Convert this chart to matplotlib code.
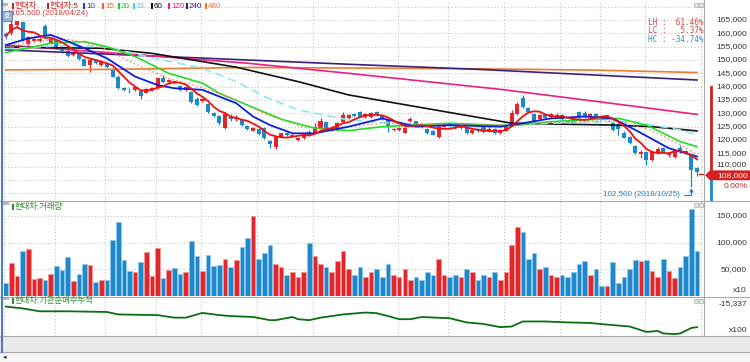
import matplotlib
matplotlib.use('Agg')
import matplotlib.pyplot as plt
import matplotlib.transforms as mtrans
from matplotlib.patches import Rectangle, Polygon
import numpy as np
import pandas as pd

plt.rcParams['font.family'] = ['Liberation Sans', 'Noto Sans CJK KR']

# 현대차 일봉 (천원 단위) 2018/04/23 ~ 2018/10/26
op = [159.8,160.0,163.2,164.3,156.0,157.2,157.3,162.8,156.5,157.5,154.8,153.5,151.8,152.5,150.2,148.0,150.0,148.2,149.0,146.5,
      143.8,139.6,138.9,138.6,138.2,137.8,138.8,139.4,143.2,141.6,142.0,140.3,138.8,138.0,135.5,134.6,133.5,130.0,129.0,124.5,
      129.0,127.8,127.5,125.3,123.5,124.2,124.4,119.6,117.3,121.3,122.6,121.3,120.0,120.7,123.0,122.4,124.5,126.9,123.9,123.8,
      126.6,128.4,129.8,130.4,128.6,128.7,130.5,129.0,127.4,123.6,123.8,122.8,127.2,127.0,125.6,124.0,123.5,121.0,125.0,126.0,
      125.4,124.4,124.9,122.5,123.8,124.8,123.2,124.3,122.6,123.5,126.0,129.6,135.6,132.0,129.6,128.0,129.9,128.6,128.8,129.2,
      127.2,127.8,130.4,130.3,128.8,129.8,129.0,128.5,126.4,125.9,122.8,121.3,117.9,114.6,115.4,112.6,115.0,117.0,114.3,113.8,
      117.0,116.0,114.5,109.4]
hi = [160.5,165.5,164.8,164.8,158.9,158.3,158.5,163.5,158.8,157.8,155.0,154.0,153.2,152.8,150.5,150.3,150.5,150.0,149.3,147.0,
      144.2,140.0,139.6,140.2,138.6,139.6,140.0,143.8,144.2,142.8,142.3,140.8,140.2,138.3,136.0,135.6,133.9,130.4,129.5,130.2,
      129.6,129.3,127.8,125.8,124.8,124.5,124.8,120.0,121.2,122.8,123.0,122.3,121.0,122.6,123.6,126.3,128.4,127.3,125.2,126.6,
      130.6,129.8,130.3,131.0,130.0,130.6,131.0,129.3,127.8,124.6,125.0,124.9,128.8,127.3,126.0,124.5,123.9,125.8,126.2,126.4,
      125.8,125.5,125.2,123.8,124.4,125.2,125.6,124.6,124.2,125.3,131.2,134.2,136.9,132.5,130.0,129.6,130.3,130.2,130.0,129.6,
      127.5,128.1,130.8,131.0,130.0,130.2,129.4,129.5,126.9,126.2,123.2,121.6,118.3,116.4,115.8,115.9,117.2,117.4,115.4,116.6,
      118.1,116.4,114.8,109.8]
lo = [157.8,159.5,162.0,157.0,155.5,156.6,156.8,159.0,156.0,154.0,152.8,151.2,151.5,150.0,147.6,145.4,148.6,147.8,147.0,143.5,
      139.0,138.3,137.8,138.3,135.3,137.5,138.2,139.0,141.5,141.0,141.0,138.4,138.4,133.8,132.6,134.2,130.2,128.8,125.8,124.0,
      127.3,127.3,125.2,123.8,123.2,122.0,120.3,116.9,116.8,121.0,121.5,121.0,119.6,120.4,121.6,122.2,124.2,123.6,123.4,123.4,
      126.3,128.0,128.8,128.5,128.3,128.3,129.0,127.6,123.1,123.3,123.4,122.5,126.8,125.6,124.6,122.3,121.7,120.8,124.7,124.8,
      124.0,124.0,122.3,122.2,123.0,122.8,123.0,122.3,122.3,123.2,125.6,129.2,131.9,130.0,126.8,127.6,127.8,128.2,128.4,127.5,
      126.0,125.7,128.3,128.1,128.4,128.0,128.3,128.2,123.3,122.0,120.6,118.6,114.6,113.2,110.6,112.2,114.6,115.0,113.8,113.4,
      115.2,114.6,102.5,106.5]
cl = [159.0,163.5,164.5,157.5,158.5,157.8,158.0,159.5,158.0,154.5,153.2,151.5,152.8,150.4,147.9,150.0,149.0,149.6,147.4,143.8,
      139.4,138.7,138.6,139.8,136.5,139.3,139.6,143.1,141.8,142.4,141.3,138.8,139.7,134.2,133.2,135.2,130.6,129.1,126.3,129.6,
      127.8,128.8,125.6,124.0,124.4,122.4,120.6,118.6,121.0,122.5,121.8,122.0,120.6,122.3,121.9,124.8,127.3,123.9,124.6,126.2,
      129.4,129.3,129.0,128.8,129.7,130.3,129.3,128.0,125.0,124.2,124.6,124.4,127.8,126.0,125.0,122.6,122.0,125.5,125.8,125.2,
      124.5,125.2,122.6,123.6,123.3,123.1,124.2,122.6,123.6,124.8,130.0,133.6,132.5,130.6,127.2,129.2,128.4,129.6,129.4,127.9,
      126.3,126.1,128.7,128.6,129.7,128.4,128.6,129.2,123.7,124.0,120.9,119.0,115.0,115.6,112.6,115.5,116.8,115.3,115.0,116.3,
      115.6,115.0,108.8,108.0]

# 거래량 (x10, 천 단위)
vol = [25,61.9,38.1,84.4,87.5,31.9,34.4,29.4,41.9,56.9,48.1,73.1,28.1,40.6,59.4,58.1,26.9,29.4,29.4,105.6,
       139.4,68.1,46.9,44.4,63.1,81.9,36.9,89.4,34.4,48.1,51.9,40.6,45.6,103.1,74.4,46.9,76.9,56.9,58.1,69.4,
       55,67.5,91.9,109.4,150,70,80,95,60,55,40,45,35,45,100,75,60,55,45,65,
       85,50,40,55,35,45,50,35,60,40,35,50,30,35,30,45,40,70,40,35,
       40,35,50,45,30,40,35,45,30,45,95,130,120,70,80,50,55,40,35,40,
       35,45,60,65,40,50,18.75,18.75,64.4,23.75,35,50,67.5,65,67.5,47.5,35,68.75,46.9,33.75,
       55,75,163,85]

# 이동평균선 (읽은 값, 천원)
ma10_x = [0,4,8,11,14,18,23,27,30,35,38,41,44,47,51,55,61,67,73,79,88,92,97,103,108,112,118,123]
ma10_y = [155.6,158.1,159.4,157.0,154.4,150.6,143.8,140.6,139.4,138.8,136.3,133.8,128.8,125.6,122.5,122.5,125.0,128.1,
          125.0,125.6,125.0,126.3,128.1,128.8,128.1,123.8,116.9,113.8]
ma15_x = [0,5,11,17,23,29,35,41,47,53,58,61,67,79,91,97,109,115,120,123]
ma15_y = [155.0,157.0,157.8,155.0,148.5,143.0,139.6,135.0,129.0,124.8,124.2,125.0,126.3,125.8,125.8,126.6,127.3,123.5,118.3,114.4]
ma20_x = [0,8,14,18,23,29,35,38,43,49,55,61,67,79,90,97,109,114,120,123]
ma20_y = [152.8,156.3,156.9,155.0,151.3,145.0,141.3,137.5,133.1,127.8,124.4,123.5,125.0,126.3,125.3,126.9,128.1,125.6,119.4,117.5]
ma33_x = [0,10,18,25,35,41,46,52,58,61,73,85,97,109,115,120,123]
ma33_y = [154.3,155.3,155.0,151.3,146.9,141.9,136.3,131.3,128.8,127.5,125.6,125.0,126.3,126.9,125.6,123.8,121.9]
ma60_x = [0,17,26,35,41,52,61,73,90,97,108,115,123]
ma60_y = [154.8,154.4,152.5,149.4,147.3,141.9,136.9,132.5,126.3,126.0,125.6,125.0,123.4]
ma120_x = [0,20,43,61,88,105,123]
ma120_y = [155.6,152.5,148.8,145.0,139.0,134.5,129.6]
ma240_x = [0,43,61,84,123]
ma240_y = [153.8,150.0,148.4,146.5,142.5]
ma480_x = [0,20,43,61,84,105,123]
ma480_y = [146.3,146.5,147.2,147.0,146.7,146.2,145.3]

# 기관순매수누적 (x100)
net_x = [0,3,6,11,18,20,27,30,32,35,38,40,44,47,48,51,52,54,56,58,60,64,66,68,70,72,74,79,82,85,88,90,92,96,100,104,107,111,114,116,117,119,120,122,123]
net_y = [-15387,-15487,-15637,-15637,-15672,-15802,-15837,-15972,-15972,-15722,-15837,-15887,-15937,-16102,-16102,-15937,-16052,
         -16102,-15972,-15887,-15802,-15702,-15737,-15887,-16052,-16052,-15937,-16002,-16222,-16302,-16472,-16437,-16172,-16172,
         -16222,-16252,-16337,-16437,-16722,-16672,-16802,-16837,-16802,-16512,-16472]

date_idx = [0,9,18,27,35,45,55,70,79,89,99,106,114,124]
date_lbl = ['2018/04/23','05/08','05/21','06/04','06/18','07/02','07/16','08/06','08/20','09/03','09/17','10/01','10/15','10/29']
price_ticks = [110000,115000,120000,125000,130000,135000,140000,145000,150000,155000,160000,165000]
vol_ticks = [50000,100000,150000]

RED, BLUE = '#e3262b', '#1d88cc'
W, H = 750, 362

fig = plt.figure(figsize=(7.5, 3.62), dpi=100)
fig.patch.set_facecolor('white')

def box(x0, y0, x1, y1):
    return [x0 / W, 1 - y1 / H, (x1 - x0) / W, (y1 - y0) / H]

# 배경 띠 (날짜축, 스크롤)
fig.patches.append(Rectangle((0, 1 - 352 / H), 1, 16 / H, transform=fig.transFigure, facecolor='#e9e9e9', edgecolor='none'))
fig.patches.append(Rectangle((0, 0), 1, 10 / H, transform=fig.transFigure, facecolor='#f5f5f5', edgecolor='none'))

ax_p = fig.add_axes(box(4, 0, 703, 200))
ax_v = fig.add_axes(box(4, 201, 703, 296))
ax_n = fig.add_axes(box(4, 298, 703, 336))

x = np.arange(len(cl))
o = np.array(op) * 1000
h = np.array(hi) * 1000
l = np.array(lo) * 1000
c = np.array(cl) * 1000
up = c >= o
cols = np.where(up, RED, BLUE)

for ax in (ax_p, ax_v, ax_n):
    ax.set_xlim(-0.32, 124.06)
    ax.set_xticks([])
    ax.set_yticks([])
    for s in ax.spines.values():
        s.set_visible(False)
    for d in date_idx:
        ax.axvline(d - 0.3, color='#c4c4c4', lw=0.8, ls=(0, (1, 2)), zorder=0)

# 가격 패널
ax_p.set_ylim(97500, 172500)
for p in range(100000, 172500, 5000):
    ax_p.axhline(p, color='#c4c4c4', lw=0.8, ls=(0, (1, 2)), zorder=0)

ax_p.vlines(x, l, h, colors=cols, lw=0.9, zorder=2)
body = np.maximum(np.abs(c - o), 150)
ax_p.bar(x, body, bottom=np.minimum(o, c), width=0.72, color=cols, zorder=3)

ma5 = pd.Series(c).rolling(5, min_periods=1).mean()
ax_p.plot(ma480_x, np.array(ma480_y) * 1000, color='#f07a2c', lw=1.2, zorder=4)
ax_p.plot(ma240_x, np.array(ma240_y) * 1000, color='#3b1f7a', lw=1.2, zorder=4)
ax_p.plot(ma120_x, np.array(ma120_y) * 1000, color='#ea1f86', lw=1.2, zorder=4)
ax_p.plot(ma60_x, np.array(ma60_y) * 1000, color='#111111', lw=1.2, zorder=4)
ax_p.plot(ma33_x, np.array(ma33_y) * 1000, color='#8ee6f6', lw=1.2, ls=(0, (5, 3)), zorder=4)
ax_p.plot(ma20_x, np.array(ma20_y) * 1000, color='#22dd22', lw=1.2, zorder=4)
ax_p.plot(ma15_x, np.array(ma15_y) * 1000, color='#f0805a', lw=1.0, ls=(0, (1, 2)), zorder=4)
ax_p.plot(ma10_x, np.array(ma10_y) * 1000, color='#0a1fe0', lw=1.3, zorder=5)
ax_p.plot(x, ma5, color='#f01010', lw=1.3, zorder=6)

# 최고/최저 표시
ax_p.annotate('102,500 (2018/10/25)', xy=(122, 102500), xytext=(106.3, 99400), fontsize=5.8, color='#2b7db8',
              va='center', ha='left', zorder=7,
              arrowprops=dict(arrowstyle='-|>', color='#2b7db8', lw=0.8, mutation_scale=5,
                              connectionstyle='angle,angleA=0,angleB=90,rad=0', shrinkA=1, shrinkB=1))
ax_p.text(1.0, 167400, '165,500 (2018/04/24)', fontsize=5.8, color='#d43a3a', va='center', ha='left', zorder=7)
ax_p.plot([0.5, 0.5], [166000, 168700], color='#d43a3a', lw=0.8, zorder=7)

# 범례
leg = [('현대차', '#d42020', 12), ('현대차:5', '#d42020', 47), ('10', '#1a3ae0', 83), ('15', '#f06040', 102),
       ('20', '#22cc22', 118), ('33', '#40d0f0', 133), ('60', '#111111', 151), ('120', '#e0207f', 168),
       ('240', '#3b1f7a', 186), ('480', '#f07a2c', 205)]
for name, col, px in leg:
    fig.patches.append(Rectangle((px / W, 1 - 8.5 / H), 2 / W, 5 / H, transform=fig.transFigure,
                                 facecolor=col, edgecolor='none'))
    fig.text((px + 3) / W, 1 - 6 / H, name, fontsize=5.8, color=col, va='center', ha='left')
fig.patches.append(Rectangle((2 / W, 1 - 6 / H), 6 / W, 3 / H, transform=fig.transFigure, facecolor='#b8b8b8', edgecolor='none'))
fig.patches.append(Rectangle((2 / W, 1 - 21 / H), 10 / W, 10 / H, transform=fig.transFigure,
                             facecolor='#9ab0cc', edgecolor='#5e7ea8', lw=0.6))
fig.text(7 / W, 1 - 16 / H, '호', fontsize=5, color='white', ha='center', va='center')

# LH / LC / HC
for i, (t, col) in enumerate([('LH :  61.46%', '#d04848'), ('LC :   5.37%', '#d04848'), ('HC : -34.74%', '#2f8fcc')]):
    fig.text(704 / W, 1 - (22.5 + 8.3 * i) / H, t, fontsize=5.6, color=col, ha='right', va='center',
             family=['DejaVu Sans Mono'])

# 오른쪽 가격축
tr_p = mtrans.blended_transform_factory(fig.transFigure, ax_p.transData)
for p in price_ticks:
    yy = p + 800 if p == 110000 else p
    ax_p.text(747 / W, yy, f'{p:,}', transform=tr_p, fontsize=6, color='#333333', ha='right', va='center', clip_on=False)
ax_p.plot([711 / W, 711 / W], [140000, 107000], transform=tr_p, color='#d42020', lw=2, clip_on=False)
ax_p.plot([711 / W, 711 / W], [107000, 97500], transform=tr_p, color='#1d88cc', lw=2, clip_on=False)
ax_p.plot([123.4, 124.0], [107200, 107200], color='#d42020', lw=1, clip_on=False, zorder=7)
tag = Polygon([[705 / W, 106800], [710 / W, 108600], [750 / W, 108600], [750 / W, 104900], [710 / W, 104900]],
              closed=True, transform=tr_p, facecolor='#d42020', edgecolor='none', clip_on=False, zorder=8)
ax_p.add_patch(tag)
ax_p.text(748 / W, 106750, '108,000', transform=tr_p, fontsize=6, color='white', ha='right', va='center',
          clip_on=False, zorder=9)
ax_p.text(748 / W, 102600, '0.00%', transform=tr_p, fontsize=6, color='#d42020', ha='right', va='center',
          clip_on=False, zorder=9)

# 거래량 패널
ax_v.set_ylim(0, 178000)
for v in vol_ticks:
    ax_v.axhline(v, color='#c4c4c4', lw=0.8, ls=(0, (1, 2)), zorder=0)
edge = np.where(up, '#f29a9a', '#8cc8ee')
ax_v.bar(x, np.array(vol) * 1000, width=0.82, color=cols, edgecolor=edge, lw=0.5, zorder=3)
tr_v = mtrans.blended_transform_factory(fig.transFigure, ax_v.transData)
for v in vol_ticks:
    ax_v.text(747 / W, v, f'{v:,}', transform=tr_v, fontsize=6, color='#333333', ha='right', va='center', clip_on=False)
fig.text(747 / W, 1 - 291 / H, 'x10', fontsize=6, color='#333333', ha='right', va='center')
fig.patches.append(Rectangle((12 / W, 1 - 210 / H), 1.5 / W, 6 / H, transform=fig.transFigure, facecolor='#2e8b2e', edgecolor='none'))
fig.text(15 / W, 1 - 207 / H, '현대차:거래량', fontsize=6, color='#2e8b2e', ha='left', va='center')
fig.patches.append(Rectangle((3 / W, 1 - 205 / H), 6 / W, 3 / H, transform=fig.transFigure, facecolor='#b8b8b8', edgecolor='none'))

# 기관순매수누적 패널
ax_n.set_ylim(-16937, -14937)
ax_n.plot(net_x, net_y, color='#0b6e12', lw=1.3, zorder=3)
fig.text(747 / W, 1 - 304 / H, '-15,337', fontsize=6, color='#333333', ha='right', va='center')
fig.text(747 / W, 1 - 331 / H, 'x100', fontsize=6, color='#333333', ha='right', va='center')
fig.patches.append(Rectangle((12 / W, 1 - 304 / H), 1.5 / W, 6 / H, transform=fig.transFigure, facecolor='#2e8b2e', edgecolor='none'))
fig.text(15 / W, 1 - 301 / H, '현대차:기관순매수누적', fontsize=6, color='#2e8b2e', ha='left', va='center')
fig.patches.append(Rectangle((3 / W, 1 - 300 / H), 6 / W, 3 / H, transform=fig.transFigure, facecolor='#b8b8b8', edgecolor='none'))

# 날짜 라벨
tr_d = mtrans.blended_transform_factory(ax_n.transData, fig.transFigure)
for d, lbl in zip(date_idx, date_lbl):
    ax_n.text(d + 0.25, 1 - 345 / H, lbl, transform=tr_d, fontsize=5.8, color='#333333', ha='left', va='center', clip_on=False)

# 패널 구분선 / 테두리
for yy in (200.5, 297, 336, 352):
    fig.add_artist(plt.Line2D([0, 1], [1 - yy / H, 1 - yy / H], transform=fig.transFigure, color='#a8a8a8', lw=0.8))
fig.add_artist(plt.Line2D([703.5 / W, 703.5 / W], [1 - 336 / H, 1], transform=fig.transFigure, color='#a8a8a8', lw=0.8))
fig.add_artist(plt.Line2D([1.5 / W, 1.5 / W], [1 - 352 / H, 1], transform=fig.transFigure, color='#4a7ec4', lw=1.5))
for yy in (3, 203, 299):
    for xx in (694, 699):
        fig.patches.append(Rectangle((xx / W, 1 - (yy + 4) / H), 4 / W, 4 / H, transform=fig.transFigure,
                                     facecolor='#e4e4e4', edgecolor='#a0a0a0', lw=0.4))
fig.text(3 / W, 1 - 357 / H, '◂', fontsize=5, color='#333333', ha='left', va='center', family=['DejaVu Sans'])

fig.savefig('out.png', dpi=100)
